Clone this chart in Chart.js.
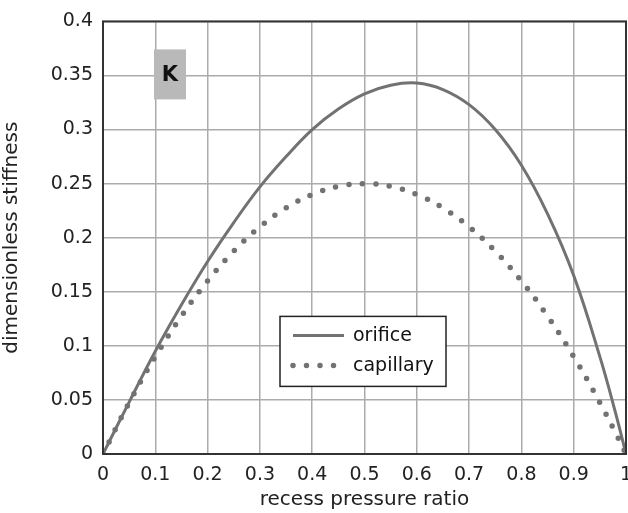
<!DOCTYPE html>
<html>
<head>
<meta charset="utf-8">
<script src="https://cdn.jsdelivr.net/npm/chart.js@4.4.0/dist/chart.umd.min.js"></script>
<style>
  html, body { margin: 0; padding: 0; background: #fff; }
  #wrap { width: 628px; height: 513px; }
</style>
</head>
<body>
<div id="wrap"><canvas id="stiff" width="628" height="513"></canvas></div>
<script>
// recess pressure ratio values
var ratio = [0, 0.05, 0.1, 0.15, 0.2, 0.25, 0.3, 0.35, 0.4, 0.45, 0.5, 0.55, 0.6, 0.65, 0.7, 0.75, 0.8, 0.85, 0.9, 0.95, 0.98, 1];
var orifice = [0, 0.048, 0.095, 0.138, 0.178, 0.214, 0.247, 0.275, 0.3, 0.319, 0.333, 0.341, 0.343, 0.337, 0.323, 0.3, 0.267, 0.222, 0.165, 0.09, 0.038, 0];
var capillary = [0, 0.0475, 0.09, 0.1275, 0.16, 0.1875, 0.21, 0.2275, 0.24, 0.2475, 0.25, 0.2475, 0.24, 0.2275, 0.21, 0.1875, 0.16, 0.1275, 0.09, 0.0475, 0.0196, 0];
var xTicks = [0, 0.1, 0.2, 0.3, 0.4, 0.5, 0.6, 0.7, 0.8, 0.9, 1];
var yTicks = [0, 0.05, 0.1, 0.15, 0.2, 0.25, 0.3, 0.35, 0.4];

var lineGray = '#727272';
var font = 'DejaVu Sans, sans-serif';

function pts(ys) {
  return ratio.map(function (r, i) { return { x: r, y: ys[i] }; });
}
function fmt(v) { return String(Math.round(v * 100) / 100); }

// frame, K badge and legend box
var extras = {
  id: 'extras',
  afterDatasetsDraw: function (chart) {
    var c = chart.ctx, a = chart.chartArea;
    c.save();
    c.strokeStyle = '#333';
    c.lineWidth = 2;
    c.strokeRect(a.left, a.top, a.right - a.left, a.bottom - a.top);

    // K badge
    c.fillStyle = '#b9b9b9';
    c.fillRect(a.left + 51, a.top + 28, 32, 50);
    c.fillStyle = '#111';
    c.font = 'bold 21px ' + font;
    c.textAlign = 'center';
    c.textBaseline = 'middle';
    c.fillText('K', a.left + 67, a.top + 54);

    // legend
    var lx = a.left + 177, ly = a.top + 295, lw = 166, lh = 70;
    c.fillStyle = '#fff';
    c.fillRect(lx, ly, lw, lh);
    c.strokeStyle = '#222';
    c.lineWidth = 1.5;
    c.strokeRect(lx, ly, lw, lh);
    c.font = '19px ' + font;
    c.textAlign = 'left';
    chart.data.datasets.forEach(function (ds, i) {
      var yy = ly + 19 + i * 30;
      c.strokeStyle = ds.borderColor;
      c.lineWidth = ds.borderWidth;
      c.lineCap = ds.borderCapStyle || 'butt';
      c.setLineDash(ds.borderDash || []);
      c.beginPath();
      c.moveTo(lx + 13, yy);
      c.lineTo(lx + 64, yy);
      c.stroke();
      c.setLineDash([]);
      c.fillStyle = '#111';
      c.fillText(ds.label, lx + 73, yy + 1);
    });
    c.restore();
  }
};

var ctx = document.getElementById('stiff').getContext('2d');
var chart = new Chart(ctx, {
  type: 'line',
  data: {
    datasets: [{
      label: 'orifice',
      data: pts(orifice),
      borderColor: lineGray,
      borderWidth: 3,
      pointRadius: 0,
      tension: 0.4,
      fill: false
    }, {
      label: 'capillary',
      data: pts(capillary),
      borderColor: lineGray,
      borderWidth: 5.5,
      borderDash: [0, 13.5],
      borderCapStyle: 'round',
      pointRadius: 0,
      tension: 0.4,
      fill: false
    }]
  },
  options: {
    responsive: false,
    animation: false,
    layout: { padding: { top: 17, right: 2, left: 0, bottom: 0 } },
    plugins: { legend: { display: false }, tooltip: { enabled: false } },
    scales: {
      x: {
        type: 'linear',
        min: 0, max: 1,
        afterBuildTicks: function (s) { s.ticks = xTicks.map(function (v) { return { value: v }; }); },
        afterFit: function (s) { s.height = 59; s.paddingLeft = 0; s.paddingRight = 0; },
        grid: { color: '#ababab', lineWidth: 1.5, drawTicks: false },
        border: { display: false },
        ticks: { color: '#222', font: { family: font, size: 19 }, padding: 10, maxRotation: 0, callback: fmt },
        title: { display: true, text: 'recess pressure ratio', color: '#222', font: { family: font, size: 20 }, padding: { top: 2, bottom: 1 } }
      },
      y: {
        min: 0, max: 0.4,
        afterBuildTicks: function (s) { s.ticks = yTicks.map(function (v) { return { value: v }; }); },
        afterFit: function (s) { s.width = 103; },
        grid: { color: '#ababab', lineWidth: 1.5, drawTicks: false },
        border: { display: false },
        ticks: { color: '#222', font: { family: font, size: 19 }, padding: 10, callback: fmt },
        title: { display: true, text: 'dimensionless stiffness', color: '#222', font: { family: font, size: 20 }, padding: { top: 0, bottom: 2 } }
      }
    }
  },
  plugins: [extras]
});
</script>
</body>
</html>
